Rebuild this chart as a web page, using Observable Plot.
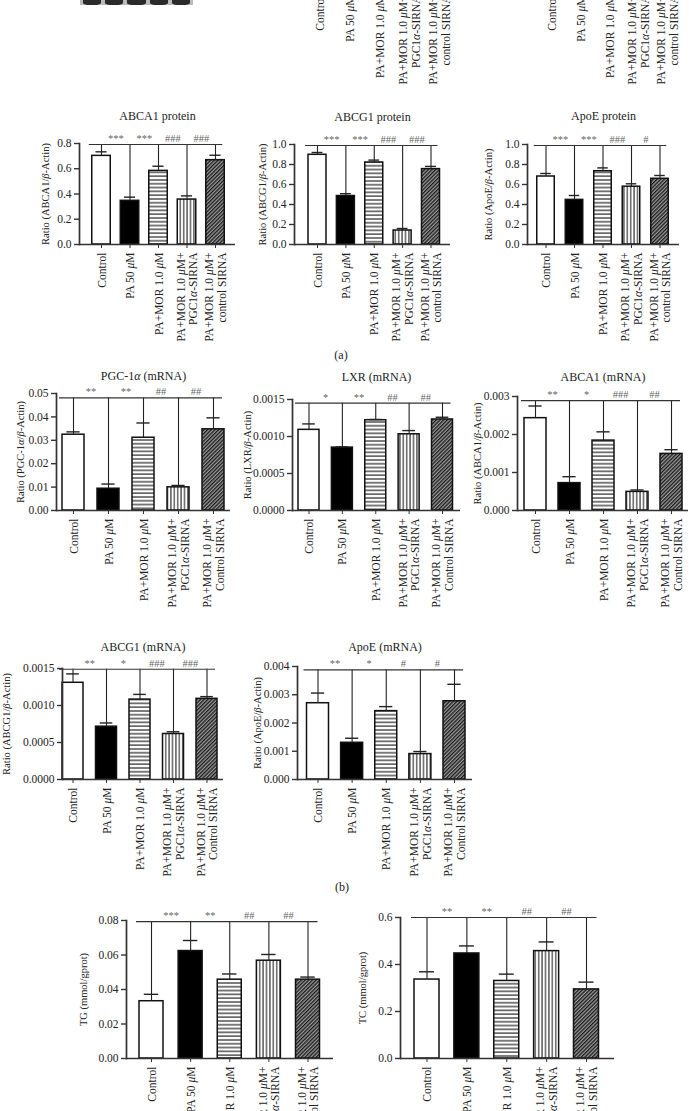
<!DOCTYPE html>
<html><head><meta charset="utf-8">
<script src="https://cdn.jsdelivr.net/npm/d3@7"></script>
<script src="https://cdn.jsdelivr.net/npm/@observablehq/plot@0.6"></script>
<style>
html,body{margin:0;padding:0;background:#fff;}
body{width:689px;height:1111px;position:relative;overflow:hidden;font-family:"Liberation Serif","Times New Roman",serif;color:#222;}
.panel{position:absolute;}
.panel svg{overflow:visible;max-width:none;}
.tag{position:absolute;font-size:12px;transform:translate(-50%,-50%);}
.blot{position:absolute;left:80px;top:0;width:113px;height:5px;background:#bbb;display:flex;gap:4px;padding:0 3px;box-sizing:border-box;}
.blot span{flex:1;background:#2a2a2a;border-radius:0 0 40% 40%;}
</style></head><body>
<svg width="0" height="0" style="position:absolute;left:0;top:0">
 <defs>
  <pattern id="hstripe" patternUnits="userSpaceOnUse" width="8" height="3.8"><rect width="8" height="3.8" fill="#fff"/><rect y="1.4" width="8" height="1.1" fill="#111"/></pattern>
  <pattern id="vstripe" patternUnits="userSpaceOnUse" width="3.4" height="8"><rect width="3.4" height="8" fill="#fff"/><rect x="1.2" width="1" height="8" fill="#111"/></pattern>
  <pattern id="diag" patternUnits="userSpaceOnUse" width="2.6" height="8" patternTransform="rotate(45)"><rect width="2.6" height="8" fill="#9a9a9a"/><rect width="1.3" height="8" fill="#1a1a1a"/></pattern>
 </defs>
</svg>
<div class="blot"><span></span><span></span><span></span><span></span><span></span></div>
<div class="tag" style="left:341px;top:355px">(a)</div>
<div class="tag" style="left:342px;top:887px">(b)</div>
<script>
// ---------- categories ----------
const groupsProtein = ["Control", "PA 50 μM", "PA+MOR 1.0 μM", "PA+MOR 1.0 μM+\nPGC1α-SIRNA", "PA+MOR 1.0 μM+\ncontrol SIRNA"];
const groupsMRNA = ["Control", "PA 50 μM", "PA+MOR 1.0 μM", "PA+MOR 1.0 μM+\nPGC1α-SIRNA", "PA+MOR 1.0 μM+\nControl SIRNA"];

// ---------- values (mean, SEM) ----------
const abca1ProtMean = [0.702, 0.346, 0.583, 0.356, 0.668];
const abca1ProtSem  = [0.032, 0.029, 0.037, 0.029, 0.039];
const abca1ProtSig  = ["***", "***", "###", "###"];
const abca1ProtBracket = 0.792;

const abcg1ProtMean = [0.897, 0.485, 0.820, 0.140, 0.754];
const abcg1ProtSem  = [0.023, 0.023, 0.024, 0.020, 0.027];
const abcg1ProtSig  = ["***", "***", "###", "###"];
const abcg1ProtBracket = 0.99;

const apoeProtMean = [0.680, 0.446, 0.733, 0.578, 0.657];
const apoeProtSem  = [0.030, 0.044, 0.033, 0.029, 0.033];
const apoeProtSig  = ["***", "***", "###", "#"];
const apoeProtBracket = 0.99;

const pgcMean = [0.0324, 0.0093, 0.0311, 0.0099, 0.0347];
const pgcSem  = [0.0012, 0.0020, 0.0063, 0.0008, 0.0049];
const pgcSig  = ["**", "**", "##", "##"];
const pgcBracket = 0.0481;

const lxrMean = [0.00109, 0.00085, 0.00122, 0.00103, 0.00123];
const lxrSem  = [0.00008, 0.00001, 0.00001, 0.00005, 0.00003];
const lxrSig  = ["*", "**", "##", "##"];
const lxrBracket = 0.00145;

const abca1RnaMean = [0.00243, 0.00072, 0.00184, 0.00049, 0.00149];
const abca1RnaSem  = [0.00032, 0.00017, 0.00023, 0.00005, 0.00011];
const abca1RnaSig  = ["**", "*", "###", "##"];
const abca1RnaBracket = 0.00289;

const abcg1RnaMean = [0.001307, 0.000714, 0.00108, 0.000615, 0.00109];
const abcg1RnaSem  = [0.00012, 0.00005, 0.00007, 0.00003, 0.00003];
const abcg1RnaSig  = ["**", "*", "###", "###"];
const abcg1RnaBracket = 0.00149;

const apoeRnaMean = [0.0027, 0.0013, 0.00242, 0.0009, 0.00277];
const apoeRnaSem  = [0.00036, 0.00016, 0.00016, 0.00009, 0.0006];
const apoeRnaSig  = ["**", "*", "#", "#"];
const apoeRnaBracket = 0.00388;

const tgMean = [0.0332, 0.0623, 0.0457, 0.0567, 0.0457];
const tgSem  = [0.0040, 0.0061, 0.0033, 0.0036, 0.0015];
const tgSig  = ["***", "**", "##", "##"];
const tgBracket = 0.0794;

const tcMean = [0.336, 0.447, 0.330, 0.457, 0.294];
const tcSem  = [0.033, 0.032, 0.029, 0.039, 0.031];
const tcSig  = ["**", "**", "##", "##"];
const tcBracket = 0.6;

// ---------- tick values ----------
const ticksProt08 = [0, 0.2, 0.4, 0.6, 0.8];
const ticksProt10 = [0, 0.2, 0.4, 0.6, 0.8, 1.0];
const ticksPgc = [0, 0.01, 0.02, 0.03, 0.04, 0.05];
const ticks15 = [0, 0.0005, 0.0010, 0.0015];
const ticksAbca1Rna = [0, 0.001, 0.002, 0.003];
const ticksApoeRna = [0, 0.001, 0.002, 0.003, 0.004];
const ticksTg = [0, 0.02, 0.04, 0.06, 0.08];
const ticksTc = [0, 0.2, 0.4, 0.6];

// ---------- styling ----------
const barFills = ["#ffffff", "#000000", "url(#hstripe)", "url(#vstripe)", "url(#diag)"];
const FONT = "'Liberation Serif','Times New Roman',serif";

// italicise Greek letters (as in the original typesetting)
function italicGreek(svg) {
  const walker = document.createTreeWalker(svg, NodeFilter.SHOW_TEXT);
  const nodes = [];
  while (walker.nextNode()) if (/[αβμ]/.test(walker.currentNode.nodeValue)) nodes.push(walker.currentNode);
  for (const node of nodes) {
    const parts = node.nodeValue.split(/([αβμ])/);
    const frag = document.createDocumentFragment();
    for (const p of parts) {
      if (!p) continue;
      if (/^[αβμ]$/.test(p)) {
        const t = document.createElementNS("http://www.w3.org/2000/svg", "tspan");
        t.setAttribute("font-style", "italic");
        t.textContent = p;
        frag.append(t);
      } else frag.append(document.createTextNode(p));
    }
    node.replaceWith(frag);
  }
}

function mount(chart, left, top, width) {
  italicGreek(chart);
  const div = document.createElement("div");
  div.className = "panel";
  div.style.left = left + "px";
  div.style.top = top + "px";
  div.style.width = width + "px";
  div.append(chart);
  document.body.append(div);
}

function addPanel(cfg) {
  const {groups, mean, sem, sig, bracket, ticks, fmt, ymax, title, ylabel, L} = cfg;
  const data = groups.map((g, i) => ({g, v: mean[i], top: mean[i] + sem[i]}));
  const svgLeft = Math.min(L.labelX - 12, L.ax - 50);
  const svgTop = (L.titleY ?? L.yTop - 20) - 14;
  const width = L.ex + 12 - svgLeft;
  const height = L.yBase + 110 - svgTop;
  const step = (L.c4 - L.c0) / 4;
  const marks = [];
  barFills.forEach((f, k) => marks.push(Plot.barY(data, {
    filter: d => d.g === groups[k], x: "g", y: "v", fill: f, stroke: "#111", strokeWidth: 1.5
  })));
  marks.push(Plot.ruleX(data, {x: "g", y1: "v", y2: () => bracket, stroke: "#222", strokeWidth: 1.1}));
  marks.push(Plot.tickY(data, {x: "g", y: "top", stroke: "#222", strokeWidth: 1.4, inset: L.bw * 0.2}));
  marks.push(Plot.ruleY([bracket], {x1: () => groups[0], x2: () => groups[4], stroke: "#333", strokeWidth: 1.2, insetLeft: -3, insetRight: 2}));
  marks.push(Plot.text(sig, {x: (d, i) => groups[i], y: () => bracket, text: d => d, dx: step / 2, dy: -6, fill: "#666", fontSize: 10.5}));
  marks.push(Plot.ruleY([0], {stroke: "#333", strokeWidth: 1.7}));
  marks.push(Plot.frame({anchor: "left", stroke: "#333", strokeWidth: 1.7}));
  marks.push(Plot.axisY({ticks, tickFormat: d3.format(fmt), tickSize: 5, tickPadding: 3, label: null, fontSize: 11.5, stroke: "#333", strokeWidth: 1.4, fill: "#222"}));
  marks.push(Plot.axisX({tickRotate: -90, tickSize: 4, tickPadding: 4, label: null, fontSize: 11.5, lineHeight: 1.1, stroke: "#333", fill: "#222"}));
  if (title) marks.push(Plot.text([title], {frameAnchor: "top", lineAnchor: "middle", dy: L.titleY - L.yTop, fontSize: 12, fill: "#222"}));
  marks.push(Plot.text([ylabel], {frameAnchor: "left", textAnchor: "middle", lineAnchor: "middle", rotate: -90, dx: L.labelX - L.ax, fontSize: 10.5, fill: "#222"}));
  const chart = Plot.plot({
    width, height,
    marginLeft: L.ax - svgLeft,
    marginRight: width - (L.ex - svgLeft),
    marginTop: L.yTop - svgTop,
    marginBottom: height - (L.yBase - svgTop),
    x: {type: "band", domain: groups, range: [L.c0 - L.bw / 2 - svgLeft, L.c4 + L.bw / 2 - svgLeft], paddingInner: 1 - L.bw / step, paddingOuter: 0, round: false},
    y: {domain: [0, ymax]},
    style: {fontFamily: FONT, fontSize: "11.5px", background: "transparent", overflow: "visible", color: "#222"},
    marks
  });
  mount(chart, svgLeft, svgTop, width);
}

function addLabelsOnly(groups, c0, c4, baseY) {
  const svgLeft = c0 - 40, width = c4 - c0 + 80, svgTop = baseY - 10, height = 130;
  const bw = 18;
  const step = (c4 - c0) / 4;
  const chart = Plot.plot({
    width, height, marginLeft: 0, marginRight: 0, marginTop: 0, marginBottom: height - 10,
    x: {type: "band", domain: groups, range: [c0 - bw / 2 - svgLeft, c4 + bw / 2 - svgLeft], paddingInner: 1 - bw / step, paddingOuter: 0},
    style: {fontFamily: FONT, fontSize: "11.5px", background: "transparent", overflow: "visible", color: "#222"},
    marks: [Plot.axisX({tickRotate: -90, tickSize: 4, tickPadding: 4, label: null, fontSize: 11.5, lineHeight: 1.1, fill: "#222"})]
  });
  mount(chart, svgLeft, svgTop, width);
}

// labels of the row above (cut at the top edge)
addLabelsOnly(groupsProtein, 318, 440, -13);
addLabelsOnly(groupsProtein, 549, 668, -13);

// row 1: protein
addPanel({groups: groupsProtein, mean: abca1ProtMean, sem: abca1ProtSem, sig: abca1ProtSig, bracket: abca1ProtBracket,
  ticks: ticksProt08, fmt: ".1f", ymax: 0.8, title: "ABCA1 protein", ylabel: "Ratio (ABCA1/β-Actin)",
  L: {ax: 79, ex: 235, c0: 101, c4: 215, bw: 18.5, yTop: 143, yBase: 244, titleY: 116, labelX: 45}});
addPanel({groups: groupsProtein, mean: abcg1ProtMean, sem: abcg1ProtSem, sig: abcg1ProtSig, bracket: abcg1ProtBracket,
  ticks: ticksProt10, fmt: ".1f", ymax: 1.0, title: "ABCG1 protein", ylabel: "Ratio (ABCG1/β-Actin)",
  L: {ax: 294, ex: 450, c0: 317, c4: 430.5, bw: 18, yTop: 144, yBase: 244, titleY: 117, labelX: 262}});
addPanel({groups: groupsProtein, mean: apoeProtMean, sem: apoeProtSem, sig: apoeProtSig, bracket: apoeProtBracket,
  ticks: ticksProt10, fmt: ".1f", ymax: 1.0, title: "ApoE protein", ylabel: "Ratio (ApoE/β-Actin)",
  L: {ax: 527, ex: 679, c0: 545.5, c4: 659.5, bw: 17.5, yTop: 144, yBase: 244, titleY: 116, labelX: 488}});

// row 2: mRNA
addPanel({groups: groupsMRNA, mean: pgcMean, sem: pgcSem, sig: pgcSig, bracket: pgcBracket,
  ticks: ticksPgc, fmt: ".2f", ymax: 0.05, title: "PGC-1α (mRNA)", ylabel: "Ratio (PGC-1α/β-Actin)",
  L: {ax: 56, ex: 230, c0: 73, c4: 213, bw: 22, yTop: 393, yBase: 510, titleY: 376, labelX: 20}});
addPanel({groups: groupsMRNA, mean: lxrMean, sem: lxrSem, sig: lxrSig, bracket: lxrBracket,
  ticks: ticks15, fmt: ".4f", ymax: 0.0015, title: "LXR (mRNA)", ylabel: "Ratio (LXR/β-Actin)",
  L: {ax: 292, ex: 460, c0: 308.5, c4: 442, bw: 21, yTop: 399, yBase: 510, titleY: 377, labelX: 247}});
addPanel({groups: groupsMRNA, mean: abca1RnaMean, sem: abca1RnaSem, sig: abca1RnaSig, bracket: abca1RnaBracket,
  ticks: ticksAbca1Rna, fmt: ".3f", ymax: 0.003, title: "ABCA1 (mRNA)", ylabel: "Ratio (ABCA1/β-Actin)",
  L: {ax: 517, ex: 688, c0: 535, c4: 671, bw: 22, yTop: 396, yBase: 510, titleY: 377, labelX: 477}});

// row 3: mRNA
addPanel({groups: groupsMRNA, mean: abcg1RnaMean, sem: abcg1RnaSem, sig: abcg1RnaSig, bracket: abcg1RnaBracket,
  ticks: ticks15, fmt: ".4f", ymax: 0.0015, title: "ABCG1 (mRNA)", ylabel: "Ratio (ABCG1/β-Actin)",
  L: {ax: 62, ex: 223, c0: 72.5, c4: 206.5, bw: 21, yTop: 668, yBase: 779, titleY: 647, labelX: 6}});
addPanel({groups: groupsMRNA, mean: apoeRnaMean, sem: apoeRnaSem, sig: apoeRnaSig, bracket: apoeRnaBracket,
  ticks: ticksApoeRna, fmt: ".3f", ymax: 0.004, title: "ApoE (mRNA)", ylabel: "Ratio (ApoE/β-Actin)",
  L: {ax: 297, ex: 472, c0: 317.5, c4: 454, bw: 22, yTop: 666, yBase: 779, titleY: 647, labelX: 257}});

// row 4: TG / TC
addPanel({groups: groupsMRNA, mean: tgMean, sem: tgSem, sig: tgSig, bracket: tgBracket,
  ticks: ticksTg, fmt: ".2f", ymax: 0.08, title: null, ylabel: "TG (mmol/gprot)",
  L: {ax: 126, ex: 333, c0: 151, c4: 307.5, bw: 24, yTop: 920, yBase: 1058, labelX: 83}});
addPanel({groups: groupsMRNA, mean: tcMean, sem: tcSem, sig: tcSig, bracket: tcBracket,
  ticks: ticksTc, fmt: ".1f", ymax: 0.6, title: null, ylabel: "TC (mmol/gprot)",
  L: {ax: 400, ex: 614, c0: 426.5, c4: 586, bw: 25, yTop: 917, yBase: 1058, labelX: 362}});
</script>
</body></html>
